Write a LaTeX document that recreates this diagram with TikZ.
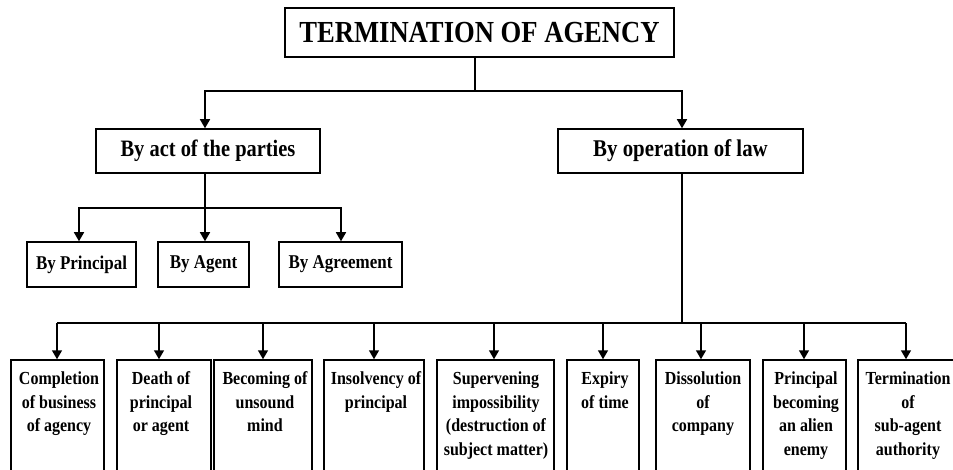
\documentclass[tikz,border=0pt]{standalone}
\usepackage{fontspec}
\setmainfont{Liberation Serif}[FakeStretch=0.87]
\usetikzlibrary{arrows.meta}
\begin{document}
\begin{tikzpicture}[x=1pt,y=-1pt,
  line width=1.5pt,
  arr/.style={-{Triangle[width=10pt,length=9pt]}},
  box/.style={draw, rectangle, inner sep=0pt, font=\bfseries},
  txt/.style={inner sep=0pt, align=center, anchor=north, font=\bfseries\fontsize{18.4}{23.5}\selectfont}
]
\useasboundingbox (0,0) rectangle (953,470);
\clip (0,0) rectangle (953,470);
\fill[white] (0,0) rectangle (953,470);

% top
\node[box, minimum width=389pt, minimum height=49pt, font=\bfseries\fontsize{30.6}{33}\selectfont] (top) at (479.5,32.5) {TERMINATION OF AGENCY};
\node[box, minimum width=224pt, minimum height=44pt, font=\bfseries\fontsize{23.5}{26}\selectfont] (act) at (208,151) {By act of the parties};
\node[box, minimum width=245pt, minimum height=44pt, font=\bfseries\fontsize{24}{26}\selectfont] (law) at (680.5,151) {By operation of law};

\coordinate (j0) at (475,91);
\coordinate (jl) at (205,91);
\coordinate (jr) at (682,91);
\draw (top.south -| j0) -- (j0);
\draw[arr] (j0) -- (jl) -- (act.north -| jl);
\draw[arr] (j0) -- (jr) -- (law.north -| jr);

% by act of the parties children
\node[box, minimum width=109pt, minimum height=45pt, font=\bfseries\fontsize{19.5}{21}\selectfont] (p1) at (81.5,264.5) {By Principal};
\node[box, minimum width=91pt, minimum height=45pt, font=\bfseries\fontsize{19.5}{21}\selectfont] (p2) at (203.5,264.5) {By Agent};
\node[box, minimum width=123pt, minimum height=45pt, font=\bfseries\fontsize{19.5}{21}\selectfont] (p3) at (340.5,264.5) {By Agreement};

\coordinate (k0) at (205,208);
\coordinate (k1) at (79,208);
\coordinate (k3) at (341,208);
\draw[arr] (act.south -| k0) -- (p2.north -| k0);
\draw[arr] (k0) -- (k1) -- (p1.north -| k1);
\draw[arr] (k0) -- (k3) -- (p3.north -| k3);

% by operation of law children
\coordinate (m0) at (682,323);
\draw (law.south -| m0) -- (m0);

\foreach \i/\bx/\bw/\ax/\t in {
  1/57.5/93/57/{Completion\\of business\\of agency},
  2/164/94/159/{Death of\\principal\\or agent},
  3/263/98/263/{Becoming of\\unsound\\mind},
  4/374/100/374/{Insolvency of\\principal},
  5/495.5/117/494/{Supervening\\impossibility\\(destruction of\\subject matter)},
  6/603/72/603/{Expiry\\of time},
  7/703/94/701/{Dissolution\\of\\company},
  8/804.5/83/804/{Principal\\becoming\\an alien\\enemy},
  9/909/102/906/{Termination\\of\\sub-agent\\authority}}{
  \node[box, minimum width=\bw pt, minimum height=120pt] (b\i) at (\bx,420) {};
  \node[txt] (t\i) at (\ax+2,371) {\t};
  \coordinate (m\i) at (\ax,323);
  \draw[arr] (m\i) -- (b\i.north -| m\i);
}
\draw (m1) -- (m9);
\end{tikzpicture}
\end{document}
